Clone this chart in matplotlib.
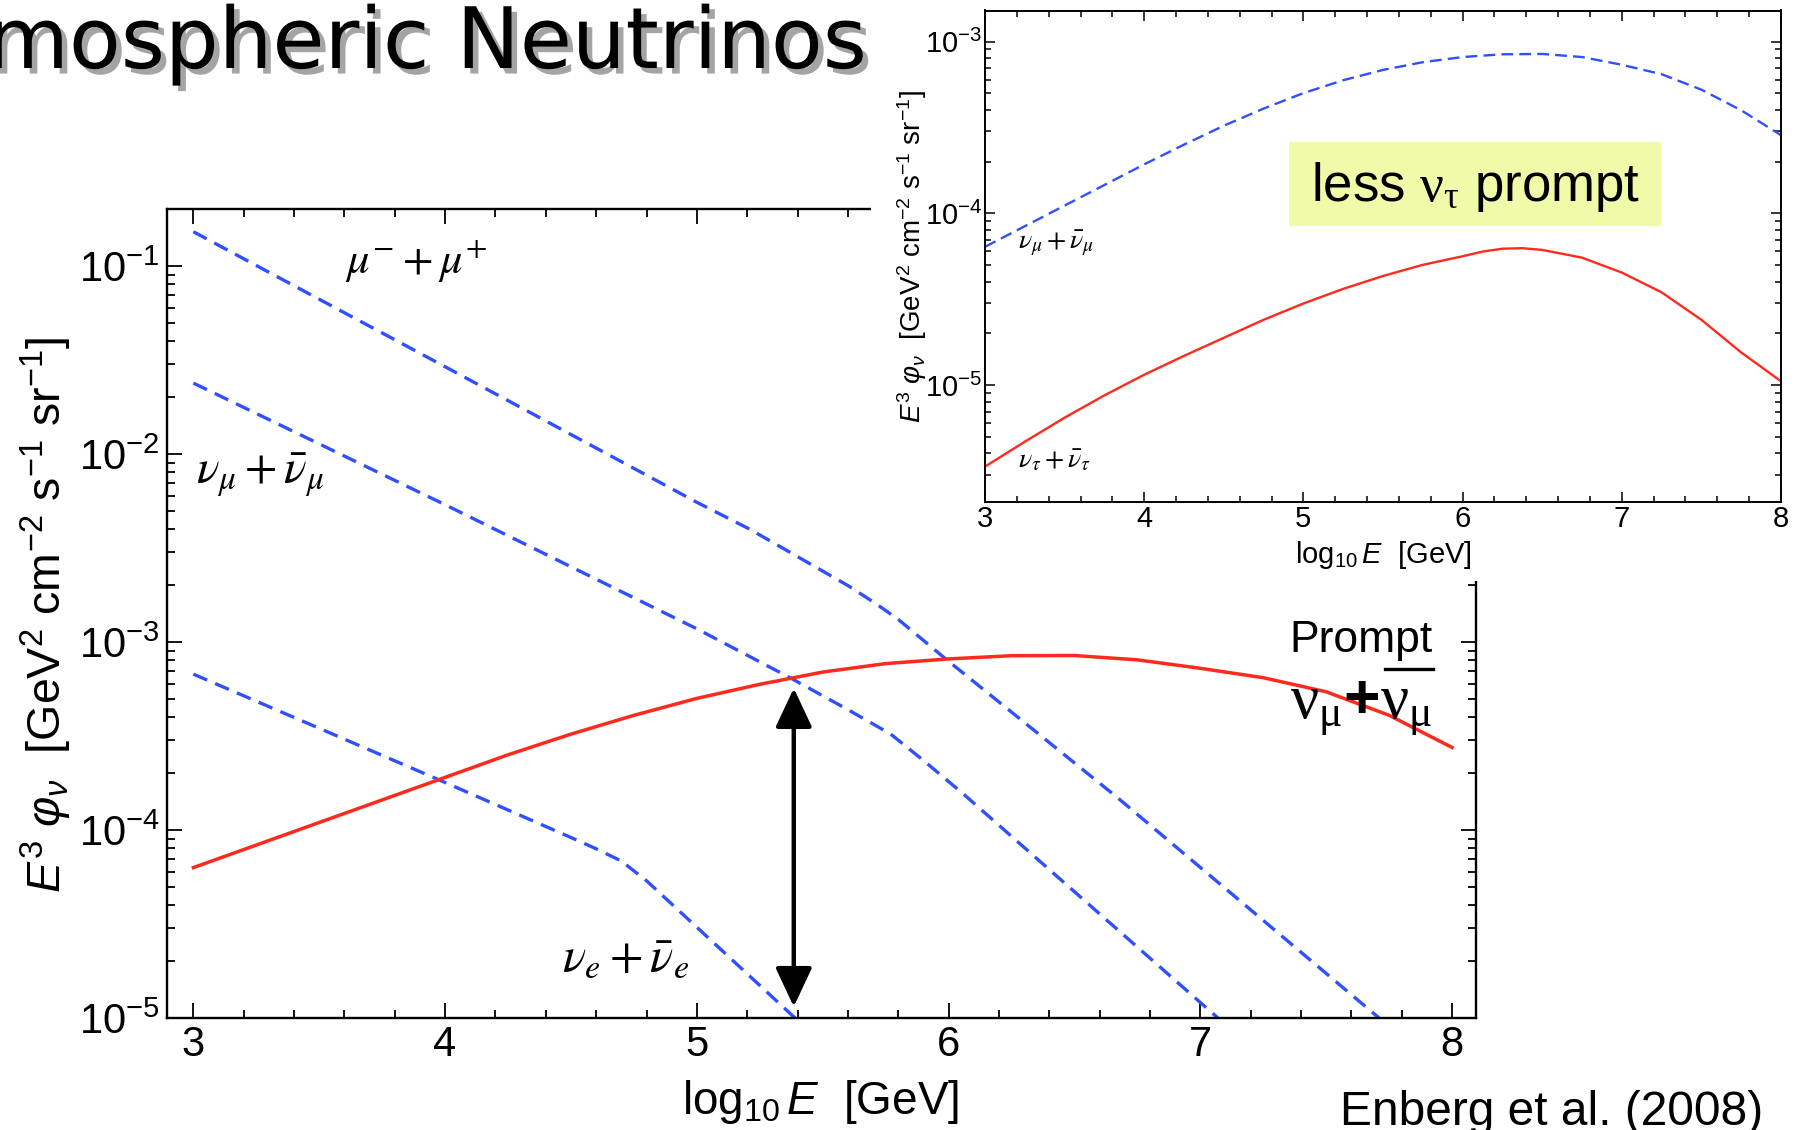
import numpy as np
import matplotlib
matplotlib.use('Agg')
import matplotlib.pyplot as plt
from matplotlib.ticker import MultipleLocator, LogLocator, NullFormatter
from matplotlib.patches import Rectangle, FancyArrowPatch
from matplotlib.lines import Line2D
import matplotlib.patheffects as pe

plt.rcParams['font.family'] = ['Liberation Sans', 'DejaVu Sans']
plt.rcParams['mathtext.fontset'] = 'custom'
plt.rcParams['mathtext.rm'] = 'Liberation Sans'
plt.rcParams['mathtext.it'] = 'Liberation Sans:italic'
plt.rcParams['mathtext.bf'] = 'Liberation Sans:bold'
plt.rcParams['mathtext.sf'] = 'Liberation Serif'

# ---------------- data (log10 E [GeV], log10 E^3 phi) ----------------
# main panel
mu_logE = [3.0, 4.0, 5.0, 5.21, 5.60, 5.71, 5.80, 5.99, 6.67, 7.71]
mu_logF = [-0.818, -1.536, -2.257, -2.40, -2.70, -2.795, -2.88, -3.092, -3.827, -5.0]

numu_logE = [3.0, 4.0, 5.0, 5.37, 5.60, 5.77, 5.90, 6.06, 7.07]
numu_logF = [-1.623, -2.27, -2.93, -3.19, -3.36, -3.49, -3.63, -3.81, -5.0]

nue_logE = [3.0, 3.97, 4.50, 4.60, 4.70, 4.80, 5.39]
nue_logF = [-3.171, -3.73, -4.04, -4.10, -4.165, -4.27, -5.0]

prompt_logE = [3.0, 3.25, 3.5, 3.75, 4.0, 4.25, 4.5, 4.75, 5.0, 5.25, 5.5, 5.75,
               6.0, 6.25, 6.5, 6.75, 7.0, 7.25, 7.5, 7.75, 8.0]
prompt_logF = [-4.20, -4.08, -3.96, -3.84, -3.72, -3.60, -3.49, -3.39, -3.30, -3.225,
               -3.16, -3.115, -3.09, -3.073, -3.072, -3.095, -3.14, -3.19, -3.265,
               -3.39, -3.561]

# inset
in_numu_logE = [3.0, 3.25, 3.5, 3.75, 4.0, 4.25, 4.5, 4.75, 5.0, 5.25, 5.5, 5.75,
                6.0, 6.25, 6.5, 6.75, 7.0, 7.25, 7.5, 7.75, 8.0]
in_numu_logF = [-4.195, -4.075, -3.955, -3.835, -3.715, -3.60, -3.49, -3.39, -3.30,
                -3.225, -3.165, -3.12, -3.09, -3.074, -3.072, -3.09, -3.135, -3.19,
                -3.28, -3.40, -3.545]

in_nutau_logE = [3.0, 3.25, 3.5, 3.75, 4.0, 4.25, 4.5, 4.75, 5.0, 5.25, 5.5, 5.75,
                 6.0, 6.125, 6.25, 6.375, 6.5, 6.75, 7.0, 7.25, 7.5, 7.75, 8.0]
in_nutau_logF = [-5.475, -5.33, -5.19, -5.06, -4.94, -4.83, -4.725, -4.62, -4.525,
                 -4.44, -4.365, -4.30, -4.25, -4.223, -4.206, -4.203, -4.213, -4.258,
                 -4.345, -4.46, -4.62, -4.81, -4.978]

arrow_logE = 5.385
arrow_logF_low = -4.94
arrow_logF_high = -3.246

BLUE = '#3050FF'
RED = '#FF2A1E'

W, H = 1804, 1130
fig = plt.figure(figsize=(W / 100, H / 100), dpi=100)


def fx(x):
    return x / W


def fy(y):
    return 1 - y / H


def pw(v):
    return 10 ** np.asarray(v, dtype=float)


# ---------------- main axes ----------------
ax = fig.add_axes([fx(166.7), fy(1018), (1476 - 166.7) / W, (1018 - 209) / H])
ax.set_yscale('log')
dash = (0, (4.5, 2.6))
ax.plot(mu_logE, pw(mu_logF), color=BLUE, lw=2.4, linestyle=dash)
ax.plot(numu_logE, pw(numu_logF), color=BLUE, lw=2.4, linestyle=dash)
ax.plot(nue_logE, pw(nue_logF), color=BLUE, lw=2.4, linestyle=dash)
ax.plot(prompt_logE, pw(prompt_logF), color=RED, lw=2.5)
ax.set_xlim(2.894, 8.095)
ax.set_ylim(1e-5, 10 ** -0.697)
ax.xaxis.set_major_locator(MultipleLocator(1))
ax.xaxis.set_minor_locator(MultipleLocator(0.2))
ax.yaxis.set_major_locator(LogLocator(base=10, numticks=20))
ax.yaxis.set_minor_locator(LogLocator(base=10, subs=np.arange(2, 10), numticks=60))
ax.yaxis.set_minor_formatter(NullFormatter())
ax.tick_params(which='both', direction='in', top=True, right=True, width=1.3)
ax.tick_params(which='major', length=11, labelsize=30, pad=5)
ax.tick_params(which='minor', length=6)
for s in ax.spines.values():
    s.set_linewidth(1.7)

ax.set_xlabel(r'$\mathrm{log}_{10}\,E\ \ \mathrm{[GeV]}$', fontsize=33)
ax.xaxis.label.set_va('baseline')
ax.xaxis.set_label_coords(0.499, -0.1187)
ax.set_ylabel(r'$E^3\ \varphi_\nu\ \ \mathrm{[GeV^2\ cm^{-2}\ s^{-1}\ sr^{-1}]}$', fontsize=33.5)
ax.yaxis.label.set_va('center')
ax.yaxis.set_label_coords(-0.0922, 0.498)

arr = FancyArrowPatch((arrow_logE, 10 ** arrow_logF_low), (arrow_logE, 10 ** arrow_logF_high),
                      arrowstyle='<|-|>,head_length=1.6,head_width=0.75', mutation_scale=15,
                      lw=3.2, color='black', shrinkA=0, shrinkB=0, zorder=5)
ax.add_patch(arr)

# curve labels (main)
fig.text(fx(345), fy(274), r'$\mu^{-}+\mu^{+}$', fontsize=32, math_fontfamily='stix',
         ha='left', va='baseline')
fig.text(fx(196), fy(484), r'$\nu_\mu+\bar{\nu}_\mu$', fontsize=34, math_fontfamily='stix',
         ha='left', va='baseline')
fig.text(fx(562), fy(971), r'$\nu_e+\bar{\nu}_e$', fontsize=35, math_fontfamily='stix',
         ha='left', va='baseline')
fig.text(fx(1289), fy(652), 'Prompt', fontsize=32, ha='left', va='baseline')
fig.text(fx(1290), fy(717), r'$\mathsf{\nu_\mu}\mathbf{+}\mathsf{\nu_\mu}$', fontsize=45,
         ha='left', va='baseline', zorder=4)
fig.add_artist(Line2D([fx(1385), fx(1433)], [fy(669), fy(669)], transform=fig.transFigure,
                      color='black', lw=2.4, zorder=4))

# ---------------- white cover + inset ----------------
fig.add_artist(Rectangle((fx(871), fy(581)), 1 - fx(871), 1 - fy(581),
                         transform=fig.transFigure, facecolor='white',
                         edgecolor='none', zorder=1))

ax2 = fig.add_axes([fx(985), fy(502), 796 / W, (502 - 10.5) / H])
ax2.set_zorder(2)
ax2.set_yscale('log')
ax2.plot(in_numu_logE, pw(in_numu_logF), color=BLUE, lw=1.7, linestyle=(0, (5, 2.6)))
ax2.plot(in_nutau_logE, pw(in_nutau_logF), color=RED, lw=1.7)
ax2.set_xlim(3, 8)
ax2.set_ylim(10 ** -5.681, 10 ** -2.819)
ax2.xaxis.set_major_locator(MultipleLocator(1))
ax2.xaxis.set_minor_locator(MultipleLocator(0.2))
ax2.yaxis.set_major_locator(LogLocator(base=10, numticks=20))
ax2.yaxis.set_minor_locator(LogLocator(base=10, subs=np.arange(2, 10), numticks=60))
ax2.yaxis.set_minor_formatter(NullFormatter())
ax2.tick_params(which='both', direction='in', top=True, right=True, width=1.1)
ax2.tick_params(which='major', length=7, labelsize=21, pad=2)
ax2.tick_params(which='minor', length=4)
for s in ax2.spines.values():
    s.set_linewidth(1.4)
ax2.set_xlabel(r'$\mathrm{log}_{10}\,E\ \ \mathrm{[GeV]}$', fontsize=21)
ax2.xaxis.label.set_va('baseline')
ax2.xaxis.set_label_coords(0.5, -0.124)
ax2.set_ylabel(r'$E^3\ \varphi_\nu\ \ \mathrm{[GeV^2\ cm^{-2}\ s^{-1}\ sr^{-1}]}$', fontsize=20)
ax2.yaxis.label.set_va('center')
ax2.yaxis.set_label_coords(-0.0917, 0.50)

fig.text(fx(1018), fy(248), r'$\nu_\mu+\bar{\nu}_\mu$', fontsize=20, math_fontfamily='stix',
         ha='left', va='baseline')
fig.text(fx(1018), fy(467), r'$\nu_\tau+\bar{\nu}_\tau$', fontsize=20, math_fontfamily='stix',
         ha='left', va='baseline')

fig.add_artist(Rectangle((fx(1289), fy(226)), (1661 - 1289) / W, (226 - 142) / H,
                         transform=fig.transFigure, facecolor='#F0FBAA',
                         edgecolor='none', zorder=3))
fig.text(fx(1311), fy(201), r'$\mathrm{less}\ \mathsf{\nu_\tau}\ \mathrm{prompt}$',
         fontsize=38, ha='left', va='baseline', zorder=4)

# ---------------- title and citation ----------------
fig.text(fx(868), fy(68), 'Atmospheric Neutrinos', fontsize=61, ha='right', va='baseline',
         family=['DejaVu Sans'],
         path_effects=[pe.withSimplePatchShadow(offset=(4, -4), shadow_rgbFace='0.35',
                                                alpha=0.55)])
fig.text(fx(1340), fy(1125), 'Enberg et al. (2008)', fontsize=34.5, ha='left', va='baseline')

fig.savefig('out.png', dpi=100)
